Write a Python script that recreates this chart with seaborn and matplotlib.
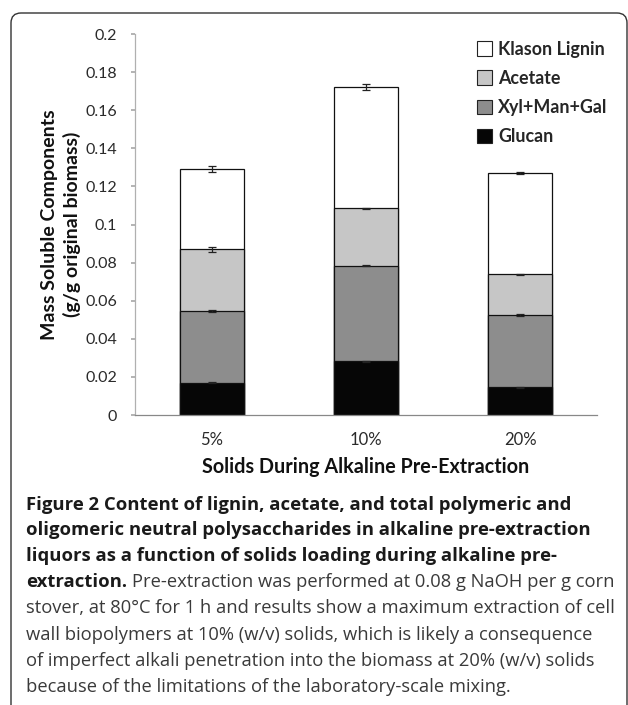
import matplotlib
matplotlib.use("Agg")
import matplotlib.pyplot as plt
import seaborn as sns
import numpy as np
import pandas as pd
from matplotlib.patches import Patch, FancyBboxPatch
from matplotlib.transforms import IdentityTransform

categories = ["5%", "10%", "20%"]
glucan = [0.017, 0.0283, 0.0145]
xyl_man_gal = [0.0376, 0.0501, 0.0380]
acetate = [0.0324, 0.0301, 0.0214]
klason_lignin = [0.042, 0.0638, 0.0533]
err_glucan = [0.0003, 0.0003, 0.0003]
err_xyl = [0.0003, 0.0004, 0.0003]
err_acetate = [0.0012, 0.0003, 0.0003]
err_lignin = [0.0015, 0.0015, 0.0006]

series_names = ["Glucan", "Xyl+Man+Gal", "Acetate", "Klason Lignin"]
series_vals = [glucan, xyl_man_gal, acetate, klason_lignin]
series_err = [err_glucan, err_xyl, err_acetate, err_lignin]
colors = ["#060606", "#8d8d8d", "#c6c6c6", "#ffffff"]

sns.set_theme(style="white")
plt.rcParams['font.family'] = ['Lato', 'DejaVu Sans']

fig = plt.figure(figsize=(6.28, 7.05), dpi=100)
ax = fig.add_axes([0.215, 0.4113, 0.7357, 0.5404])

cum = np.cumsum(np.array(series_vals), axis=0)
for i in range(len(series_names) - 1, -1, -1):
    df = pd.DataFrame({"cat": categories, "val": cum[i]})
    sns.barplot(data=df, x="cat", y="val", color=colors[i], width=0.415,
                edgecolor="#111111", linewidth=0.9, ax=ax, saturation=1,
                errorbar=None, zorder=2)
for i in range(len(series_names)):
    ax.errorbar(np.arange(len(categories)), cum[i], yerr=series_err[i],
                fmt="none", ecolor="#222222", elinewidth=0.9, capsize=3,
                capthick=0.9, zorder=5)

ax.set_ylim(0, 0.2)
ax.set_xlim(-0.5, 2.5)
yt = np.round(np.arange(0, 0.2001, 0.02), 2)
ax.set_yticks(yt)
ax.set_yticklabels(["0" if v == 0 else f"{v:g}" for v in yt],
                   fontsize=11.5, color="#2a2a2a")
ax.tick_params(axis="y", length=3, color="#aaaaaa", left=True, pad=10)
ax.tick_params(axis="x", length=0, pad=12, labelsize=12, labelcolor="#2a2a2a")
for s in ["top", "right"]:
    ax.spines[s].set_visible(False)
ax.spines["left"].set_color("#b0b0b0")
ax.spines["bottom"].set_color("#888888")
ax.spines["left"].set_linewidth(0.9)
ax.spines["bottom"].set_linewidth(0.9)
ax.set_xlabel("Solids During Alkaline Pre-Extraction", fontsize=14.2,
              fontweight="bold", color="#111111", labelpad=7)
ax.set_ylabel("Mass Soluble Components\n(g/g original biomass)", fontsize=14.0,
              fontweight="bold", color="#111111", labelpad=3, linespacing=1.3)

handles = [Patch(facecolor=colors[i], edgecolor="#222222", linewidth=0.8,
                 label=series_names[i]) for i in range(len(series_names) - 1, -1, -1)]
ax.legend(handles=handles, loc="upper right", bbox_to_anchor=(1.058, 1.025),
          frameon=False, prop={"weight": "bold", "size": 12.9},
          handlelength=0.85, handleheight=0.85, handletextpad=0.35,
          labelspacing=0.68)

# figure border (rounded top, left side), in pixel coordinates
border = FancyBboxPatch((11, -50), 616, (705 - 13) + 50,
                        boxstyle="round,pad=0,rounding_size=10",
                        transform=IdentityTransform(), fill=False,
                        edgecolor="#333333", linewidth=1.0)
fig.add_artist(border)

# caption
x0 = 26 / 628
bold_lines = [
    "Figure 2 Content of lignin, acetate, and total polymeric and",
    "oligomeric neutral polysaccharides in alkaline pre-extraction",
    "liquors as a function of solids loading during alkaline pre-",
]
ys = [505, 530, 556, 582, 608, 635, 661, 687]
cap_font = ['Open Sans', 'DejaVu Sans']
for j, line in enumerate(bold_lines):
    fig.text(x0, 1 - ys[j] / 705, line, fontsize=13.3, fontweight="bold",
             family=cap_font, va="center", ha="left", color="#1a1a1a")
t = fig.text(x0, 1 - ys[3] / 705, "extraction.", fontsize=13.3, fontweight="bold",
             family=cap_font, va="center", ha="left", color="#1a1a1a")
fig.canvas.draw()
bb = t.get_window_extent(renderer=fig.canvas.get_renderer())
fig.text(bb.x1 / fig.bbox.width + 5 / 628, 1 - ys[3] / 705,
         "Pre-extraction was performed at 0.08 g NaOH per g corn",
         fontsize=13.2, family=cap_font, va="center", ha="left", color="#3a3a3a")
normal_lines = [
    "stover, at 80\u00b0C for 1 h and results show a maximum extraction of cell",
    "wall biopolymers at 10% (w/v) solids, which is likely a consequence",
    "of imperfect alkali penetration into the biomass at 20% (w/v) solids",
    "because of the limitations of the laboratory-scale mixing.",
]
for j, line in enumerate(normal_lines):
    fig.text(x0, 1 - ys[4 + j] / 705, line, fontsize=13.2, family=cap_font,
             va="center", ha="left", color="#3a3a3a")

fig.savefig("out.png", dpi=100)
